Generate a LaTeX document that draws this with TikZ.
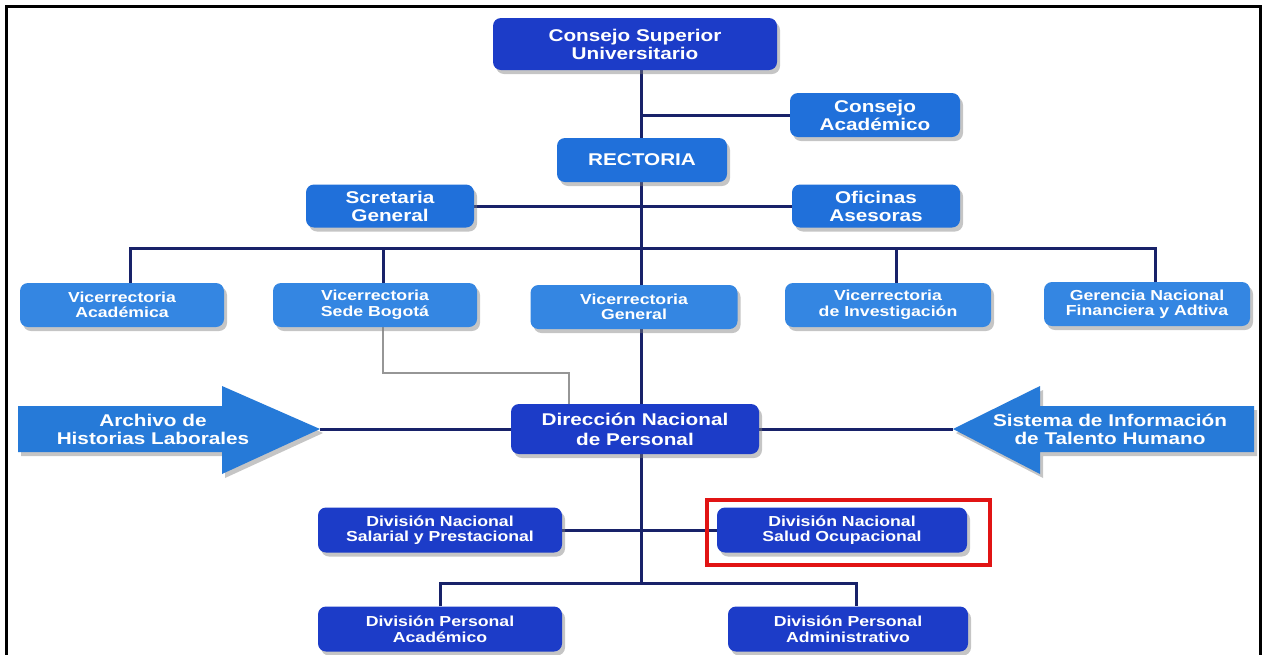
\documentclass[tikz,border=0pt]{standalone}
\usepackage{fontspec}
\setmainfont{Liberation Sans}[FakeStretch=1.22]
\usetikzlibrary{shadows}
\definecolor{dkblue}{RGB}{28,60,200}
\definecolor{mdblue}{RGB}{32,112,218}
\definecolor{ltblue}{RGB}{52,134,226}
\definecolor{arblue}{RGB}{38,122,216}
\definecolor{navy}{RGB}{24,34,105}
\definecolor{grayln}{RGB}{150,150,150}
\definecolor{redbox}{RGB}{225,20,20}
\pgfdeclarelayer{bg}
\pgfdeclarelayer{paper}
\pgfsetlayers{paper,bg,main}
\begin{document}
\begin{tikzpicture}[x=1pt,y=-1pt,
  shad/.style={drop shadow={shadow xshift=3pt,shadow yshift=-4pt,opacity=0.45}},
  box/.style={rounded corners=8pt, text=white, align=center, inner sep=0pt, shad},
  bigtxt/.style={font=\bfseries\fontsize{17}{18}\selectfont},
  smalltxt/.style={font=\bfseries\fontsize{14.5}{15.5}\selectfont},
  dkbox/.style={box, fill=dkblue},
  mdbox/.style={box, fill=mdblue, bigtxt},
  ltbox/.style={box, fill=ltblue, smalltxt},
  conn/.style={draw=navy, line width=3pt},
  gconn/.style={draw=grayln, line width=2.5pt},
  arrowshape/.style={fill=arblue, shad},
  arrowtxt/.style={text=white, align=center, inner sep=0pt, bigtxt}
]
\useasboundingbox (0,0) rectangle (1265,654);
\begin{pgfonlayer}{paper}
\fill[white] (0,0) rectangle (1265,654);
\end{pgfonlayer}
\draw[black, line width=3pt] (6,660) -- (6,6) -- (1260,6) -- (1260,660);

% coordinates of the spine
\coordinate (sp1) at (641,70);
\coordinate (bar2) at (641,248);
\coordinate (sp2) at (641,583);
\coordinate (gturn) at (569,373);

% nodes
\node[dkbox, bigtxt, minimum width=284, minimum height=52] (csu) at (635,44) {Consejo Superior\\Universitario};
\node[mdbox, minimum width=170, minimum height=44] (ca) at (875,115) {Consejo\\Académico};
\node[mdbox, minimum width=170, minimum height=44] (rec) at (642,160) {RECTORIA};
\node[mdbox, minimum width=168, minimum height=43] (sg) at (390,206) {Scretaria\\General};
\node[mdbox, minimum width=168, minimum height=43] (oa) at (876,206) {Oficinas\\Asesoras};

\node[ltbox, minimum width=204, minimum height=44] (va) at (122,305) {Vicerrectoria\\Académica};
\node[ltbox, minimum width=204, minimum height=44] (vb) at (375,305) {Vicerrectoria\\Sede Bogotá};
\node[ltbox, minimum width=207, minimum height=44] (vg) at (634,307) {Vicerrectoria\\General};
\node[ltbox, minimum width=206, minimum height=44] (vi) at (888,305) {Vicerrectoria\\de Investigación};
\node[ltbox, minimum width=206, minimum height=44] (gn) at (1147,304) {Gerencia Nacional\\Financiera y Adtiva};

\node[dkbox, font=\bfseries\fontsize{17}{20}\selectfont, minimum width=248, minimum height=50] (dnp) at (635,429) {Dirección Nacional\\de Personal};

\node[dkbox, smalltxt, minimum width=244, minimum height=45] (dsp) at (440,530) {División Nacional\\Salarial y Prestacional};
\node[dkbox, smalltxt, minimum width=250, minimum height=45] (dso) at (842,530) {División Nacional\\Salud Ocupacional};
\node[dkbox, smalltxt, minimum width=244, minimum height=45] (dpa) at (440,629) {División Personal\\Académico};
\node[dkbox, smalltxt, minimum width=240, minimum height=45] (dpd) at (848,629) {División Personal\\Administrativo};

% side arrows
\fill[arrowshape] (18,406) -- (222,406) -- (222,386) -- (320,429) -- (222,474) -- (222,452) -- (18,452) -- cycle;
\coordinate (archtip) at (320,429);
\node[arrowtxt] (arch) at (153,429) {Archivo de\\Historias Laborales};

\fill[arrowshape] (1254,406) -- (1040,406) -- (1040,386) -- (953,429) -- (1040,474) -- (1040,452) -- (1254,452) -- cycle;
\coordinate (sistip) at (953,429);
\node[arrowtxt] (sis) at (1110,429) {Sistema de Información\\de Talento Humano};

% highlight
\draw[redbox, line width=4pt] (707,500) rectangle (990,565);

% connectors
\begin{pgfonlayer}{bg}
\draw[conn] (csu.south -| sp1) -- (sp2);
\draw[conn] (ca.west) -- (ca.west -| sp1);
\draw[conn] (sg.east) -- (oa.west);
\draw[conn] ([xshift=8]va.north) |- (bar2) -| ([xshift=8]gn.north);
\draw[conn] ([xshift=8]vb.north) -- ([xshift=8]vb.north |- bar2);
\draw[conn] ([xshift=8]vi.north) -- ([xshift=8]vi.north |- bar2);
\draw[gconn] ([xshift=8]vb.south) |- (gturn) -- (gturn |- dnp.north);
\draw[conn] (archtip) -- (dnp.west);
\draw[conn] (dnp.east) -- (sistip);
\draw[conn] (dsp.east) -- (dso.west);
\draw[conn] (dpa.north) |- (sp2) -| ([xshift=8]dpd.north);
\end{pgfonlayer}
\end{tikzpicture}
\end{document}
